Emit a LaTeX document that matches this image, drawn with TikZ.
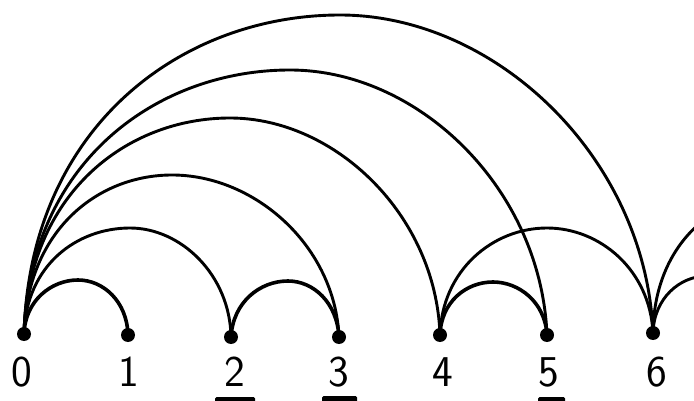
\documentclass[tikz,border=0pt]{standalone}
\begin{document}
\begin{tikzpicture}[x=1pt,y=-1pt,
  dot/.style={circle,fill=black,inner sep=0pt,minimum size=14pt},
  arcline/.style={line width=2.9pt,line cap=round},
  smallarc/.style={line width=3.6pt,line cap=round},
  numlabel/.style={inner sep=0pt,font=\fontsize{44}{44}\selectfont\sffamily},
  bar/.style={fill=black,rounded corners=1.5pt}]
\useasboundingbox (0,0) rectangle (694,401);
% points
\node[dot] (p0) at (24,334) {};
\node[dot] (p1) at (128,335) {};
\node[dot] (p2) at (231,337) {};
\node[dot] (p3) at (339,337) {};
\node[dot] (p4) at (440,335) {};
\node[dot] (p5) at (547,335) {};
\node[dot] (p6) at (653,333) {};
\coordinate (p7) at (760,333);
\coordinate (p8) at (880,333);
% labels
\node[numlabel] (l0) at (22,372) {0};
\node[numlabel] (l1) at (129,372) {1};
\node[numlabel] (l2) at (235,372) {2};
\node[numlabel] (l3) at (339,372) {3};
\node[numlabel] (l4) at (443,372) {4};
\node[numlabel] (l5) at (549,372) {5};
\node[numlabel] (l6) at (657,372) {6};
% big arcs from 0
\draw[arcline] (p0.center) .. controls (30,126) and (182,15) .. (340,15)
  .. controls (496,15) and (646,158) .. (p6.center);
\draw[arcline] (p0.center) .. controls (29,162) and (157,70) .. (290,70)
  .. controls (418,70) and (541,188) .. (p5.center);
\draw[arcline] (p0.center) .. controls (28,193) and (127,118) .. (230,118)
  .. controls (335,118) and (436,215) .. (p4.center);
\draw[arcline] (p0.center) .. controls (27,230) and (98,175) .. (172,175)
  .. controls (255,175) and (335,246) .. (p3.center);
\draw[arcline] (p0.center) .. controls (26,265) and (77,228) .. (130,228)
  .. controls (181,228) and (230,275) .. (p2.center);
% small arcs
\draw[smallarc] (p0.center) .. controls (25,301) and (51,280) .. (78,280)
  .. controls (103,280) and (127,301) .. (p1.center);
\draw[smallarc] (p2.center) .. controls (233,302) and (260,281) .. (288,281)
  .. controls (313,281) and (337,302) .. (p3.center);
\draw[smallarc] (p4.center) .. controls (441,302) and (466,282) .. (493,282)
  .. controls (519,282) and (545,302) .. (p5.center);
\draw[arcline] (p4.center) .. controls (442,270) and (493,228) .. (547,228)
  .. controls (600,228) and (650,270) .. (p6.center);
% arcs leaving to the right
\begin{scope}
\clip (0,0) rectangle (694,401);
\draw[arcline] (p6.center) .. controls (654,298) and (680,276) .. (707,276)
  .. controls (735,276) and (758,298) .. (p7);
\draw[arcline] (p6.center) .. controls (654,245) and (714,196) .. (772,196)
  .. controls (830,196) and (878,245) .. (p8);
% cut-off marks at the bottom edge
\fill[bar] (215,397) rectangle (255,404);
\fill[bar] (322,396) rectangle (357,404);
\fill[bar] (538,397) rectangle (565,404);
\end{scope}
\end{tikzpicture}
\end{document}
